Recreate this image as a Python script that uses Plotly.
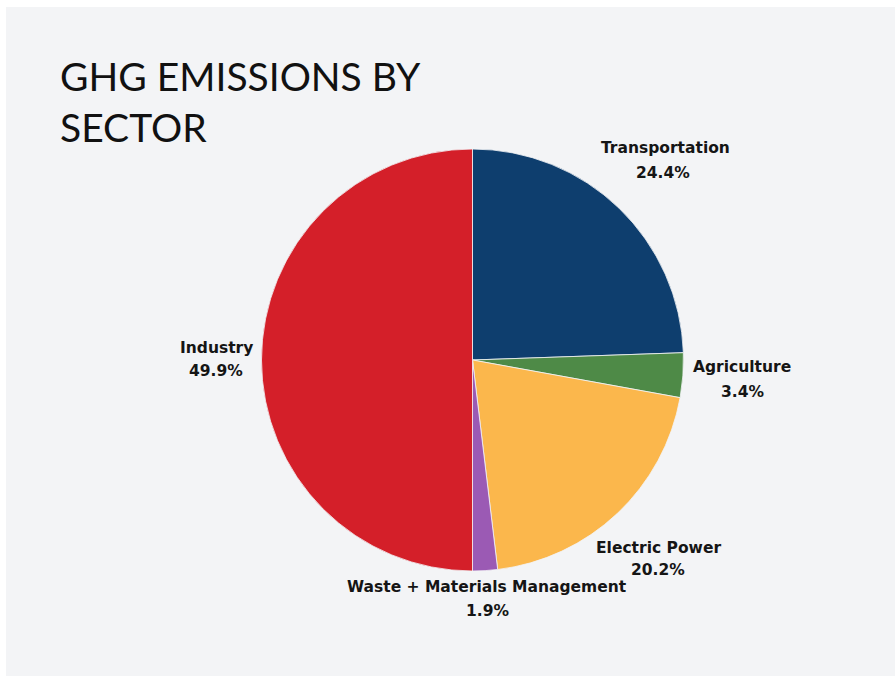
import plotly.graph_objects as go

# Greenhouse-gas emissions share by sector (percent)
sectors = ["Transportation", "Agriculture", "Electric Power",
           "Waste + Materials Management", "Industry"]
shares = [24.4, 3.4, 20.2, 1.9, 49.9]
colors = ["#0e3e6e", "#4e8a47", "#fbb74c", "#9b5ab4", "#d41f29"]

W, H = 895, 676

# label centres (pixels) for the name line and the value line
name_pos = [(665, 148), (742, 367), (658, 548), (487, 587), (216, 348)]
value_pos = [(663, 173), (742, 392), (658, 570), (487, 611), (216, 371)]

# pie placement (pixels)
cx, cy, r = 472.5, 360, 211

fig = go.Figure(go.Pie(
    labels=sectors,
    values=shares,
    sort=False,
    direction="clockwise",
    rotation=0,
    marker=dict(colors=colors, line=dict(color="#f3f4f6", width=0.8)),
    textinfo="none",
    hoverinfo="label+value",
    showlegend=False,
    domain=dict(x=[(cx - r) / W, (cx + r) / W],
                y=[1 - (cy + r) / H, 1 - (cy - r) / H]),
))

label_font = dict(family="DejaVu Sans", size=15.5, color="#151515")
annotations = []
for name, val, (nx, ny), (vx, vy) in zip(sectors, shares, name_pos, value_pos):
    annotations.append(dict(text=f"<b>{name}</b>", x=nx / W, y=1 - ny / H,
                            xref="paper", yref="paper", showarrow=False,
                            xanchor="center", yanchor="middle", font=label_font))
    annotations.append(dict(text=f"<b>{val:.1f}%</b>", x=vx / W, y=1 - vy / H,
                            xref="paper", yref="paper", showarrow=False,
                            xanchor="center", yanchor="middle", font=label_font))

annotations.append(dict(
    text="GHG EMISSIONS BY<br>SECTOR",
    x=58 / W, y=1 - 51 / H, xref="paper", yref="paper",
    xanchor="left", yanchor="top", align="left", showarrow=False,
    font=dict(family="Lato", size=39, color="#111111"),
))

fig.update_layout(
    width=W, height=H,
    margin=dict(l=0, r=0, t=0, b=0),
    paper_bgcolor="#f3f4f6",
    plot_bgcolor="#f3f4f6",
    annotations=annotations,
    shapes=[
        dict(type="rect", xref="paper", yref="paper", x0=0, x1=1,
             y0=1 - 7 / H, y1=1, fillcolor="white", line=dict(width=0)),
        dict(type="rect", xref="paper", yref="paper", x0=0, x1=6 / W,
             y0=0, y1=1, fillcolor="white", line=dict(width=0)),
    ],
)

fig.write_html("out.html")
